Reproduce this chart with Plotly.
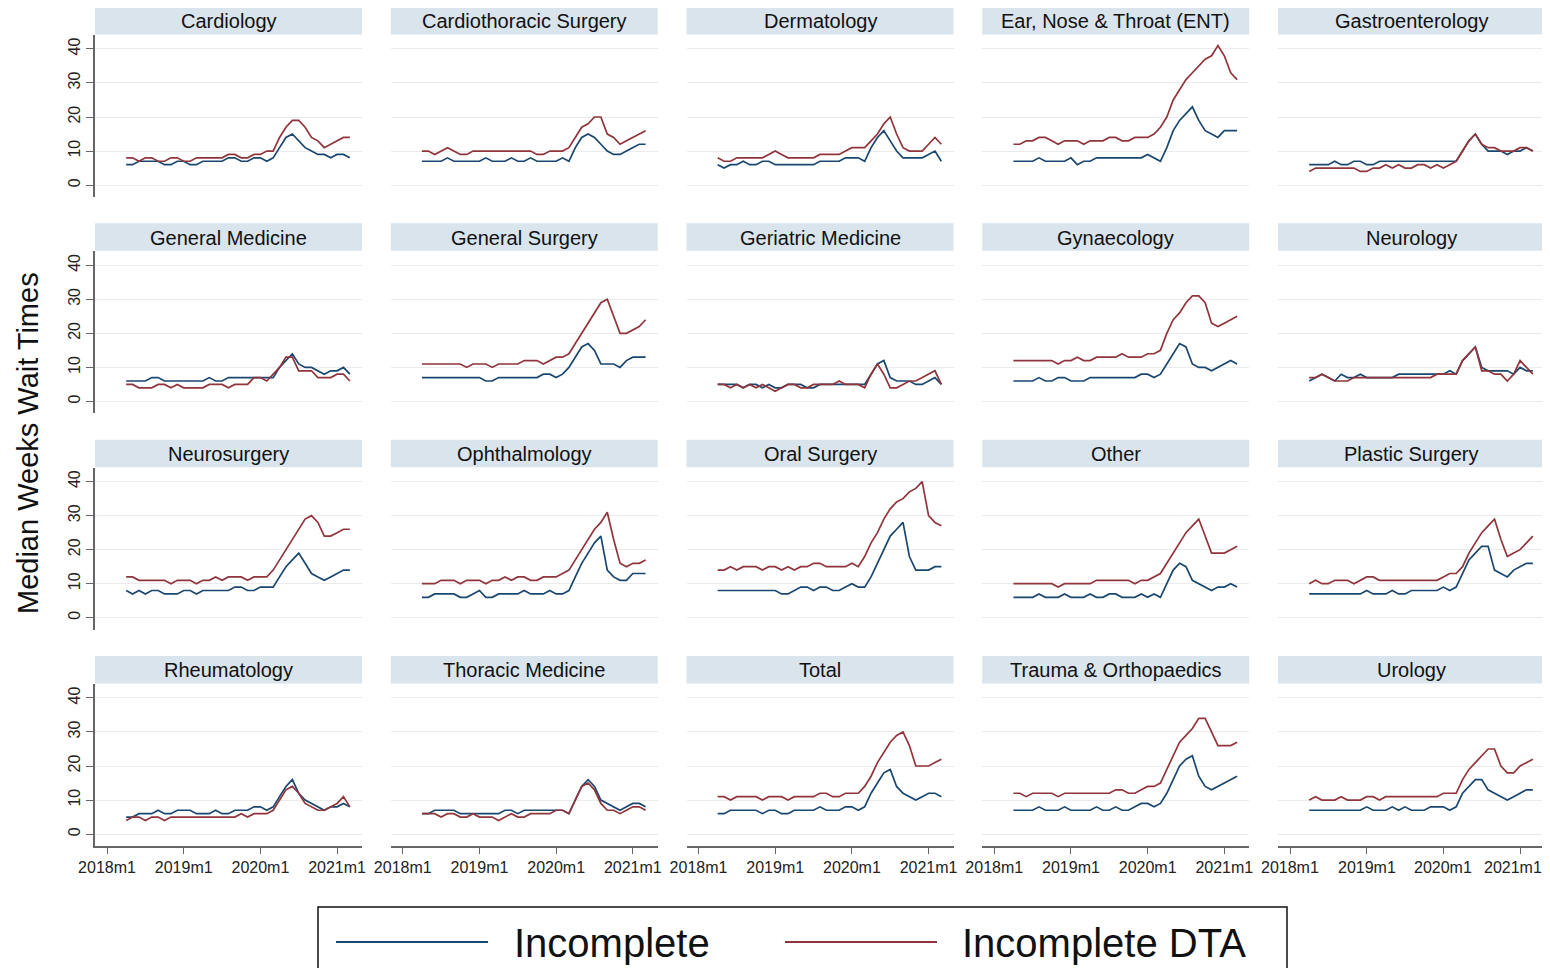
import pandas as pd
import plotly.graph_objects as go
from plotly.subplots import make_subplots

# monthly observations 2018m4 .. 2021m3
MONTHS = [f"{p.year}m{p.month}" for p in pd.period_range("2018-04", "2021-03", freq="M")]
TICK_LABELS = ["2018m1", "2019m1", "2020m1", "2021m1"]
Y_TICKS = [0, 10, 20, 30, 40]

cardiology_inc = [6, 6, 7, 7, 7, 7, 6, 6, 7, 7, 6, 6, 7, 7, 7, 7, 8, 8, 7, 7, 8, 8, 7, 8, 11, 14, 15, 13, 11, 10, 9, 9, 8, 9, 9, 8]
cardiology_dta = [8, 8, 7, 8, 8, 7, 7, 8, 8, 7, 7, 8, 8, 8, 8, 8, 9, 9, 8, 8, 9, 9, 10, 10, 14, 17, 19, 19, 17, 14, 13, 11, 12, 13, 14, 14]

cardiothoracic_inc = [7, 7, 7, 7, 8, 7, 7, 7, 7, 7, 8, 7, 7, 7, 8, 7, 7, 8, 7, 7, 7, 7, 8, 7, 11, 14, 15, 14, 12, 10, 9, 9, 10, 11, 12, 12]
cardiothoracic_dta = [10, 10, 9, 10, 11, 10, 9, 9, 10, 10, 10, 10, 10, 10, 10, 10, 10, 10, 9, 9, 10, 10, 10, 11, 14, 17, 18, 20, 20, 15, 14, 12, 13, 14, 15, 16]

dermatology_inc = [6, 5, 6, 6, 7, 6, 6, 7, 7, 6, 6, 6, 6, 6, 6, 6, 7, 7, 7, 7, 8, 8, 8, 7, 11, 14, 16, 13, 10, 8, 8, 8, 8, 9, 10, 7]
dermatology_dta = [8, 7, 7, 8, 8, 8, 8, 8, 9, 10, 9, 8, 8, 8, 8, 8, 9, 9, 9, 9, 10, 11, 11, 11, 13, 15, 18, 20, 15, 11, 10, 10, 10, 12, 14, 12]

ent_inc = [7, 7, 7, 7, 8, 7, 7, 7, 7, 8, 6, 7, 7, 8, 8, 8, 8, 8, 8, 8, 8, 9, 8, 7, 11, 16, 19, 21, 23, 19, 16, 15, 14, 16, 16, 16]
ent_dta = [12, 12, 13, 13, 14, 14, 13, 12, 13, 13, 13, 12, 13, 13, 13, 14, 14, 13, 13, 14, 14, 14, 15, 17, 20, 25, 28, 31, 33, 35, 37, 38, 41, 38, 33, 31]

gastro_inc = [6, 6, 6, 6, 7, 6, 6, 7, 7, 6, 6, 7, 7, 7, 7, 7, 7, 7, 7, 7, 7, 7, 7, 7, 10, 13, 15, 12, 10, 10, 10, 9, 10, 10, 11, 10]
gastro_dta = [4, 5, 5, 5, 5, 5, 5, 5, 4, 4, 5, 5, 6, 5, 6, 5, 5, 6, 6, 5, 6, 5, 6, 7, 10, 13, 15, 12, 11, 11, 10, 10, 10, 11, 11, 10]

gen_medicine_inc = [6, 6, 6, 6, 7, 7, 6, 6, 6, 6, 6, 6, 6, 7, 6, 6, 7, 7, 7, 7, 7, 7, 7, 7, 10, 12, 14, 11, 10, 10, 9, 8, 9, 9, 10, 8]
gen_medicine_dta = [5, 5, 4, 4, 4, 5, 5, 4, 5, 4, 4, 4, 4, 5, 5, 5, 4, 5, 5, 5, 7, 7, 6, 8, 10, 13, 13, 9, 9, 9, 7, 7, 7, 8, 8, 6]

gen_surgery_inc = [7, 7, 7, 7, 7, 7, 7, 7, 7, 7, 6, 6, 7, 7, 7, 7, 7, 7, 7, 8, 8, 7, 8, 10, 13, 16, 17, 15, 11, 11, 11, 10, 12, 13, 13, 13]
gen_surgery_dta = [11, 11, 11, 11, 11, 11, 11, 10, 11, 11, 11, 10, 11, 11, 11, 11, 12, 12, 12, 11, 12, 13, 13, 14, 17, 20, 23, 26, 29, 30, 25, 20, 20, 21, 22, 24]

geriatric_inc = [5, 5, 5, 5, 4, 5, 5, 4, 5, 4, 4, 5, 5, 5, 4, 4, 5, 5, 5, 5, 5, 5, 5, 5, 8, 11, 12, 7, 6, 6, 6, 5, 5, 6, 7, 5]
geriatric_dta = [5, 5, 4, 5, 4, 5, 4, 5, 4, 3, 4, 5, 5, 4, 4, 5, 5, 5, 5, 6, 5, 5, 5, 4, 8, 11, 8, 4, 4, 5, 6, 6, 7, 8, 9, 5]

gynaecology_inc = [6, 6, 6, 6, 7, 6, 6, 7, 7, 6, 6, 6, 7, 7, 7, 7, 7, 7, 7, 7, 8, 8, 7, 8, 11, 14, 17, 16, 11, 10, 10, 9, 10, 11, 12, 11]
gynaecology_dta = [12, 12, 12, 12, 12, 12, 12, 11, 12, 12, 13, 12, 12, 13, 13, 13, 13, 14, 13, 13, 13, 14, 14, 15, 20, 24, 26, 29, 31, 31, 29, 23, 22, 23, 24, 25]

neurology_inc = [6, 7, 8, 7, 6, 8, 7, 7, 8, 7, 7, 7, 7, 7, 8, 8, 8, 8, 8, 8, 8, 8, 9, 8, 12, 14, 16, 10, 9, 9, 9, 9, 8, 10, 9, 9]
neurology_dta = [7, 7, 8, 7, 6, 6, 6, 7, 7, 7, 7, 7, 7, 7, 7, 7, 7, 7, 7, 7, 8, 8, 8, 8, 12, 14, 16, 9, 9, 8, 8, 6, 8, 12, 10, 8]

neurosurgery_inc = [8, 7, 8, 7, 8, 8, 7, 7, 7, 8, 8, 7, 8, 8, 8, 8, 8, 9, 9, 8, 8, 9, 9, 9, 12, 15, 17, 19, 16, 13, 12, 11, 12, 13, 14, 14]
neurosurgery_dta = [12, 12, 11, 11, 11, 11, 11, 10, 11, 11, 11, 10, 11, 11, 12, 11, 12, 12, 12, 11, 12, 12, 12, 14, 17, 20, 23, 26, 29, 30, 28, 24, 24, 25, 26, 26]

ophthalmology_inc = [6, 6, 7, 7, 7, 7, 6, 6, 7, 8, 6, 6, 7, 7, 7, 7, 8, 7, 7, 7, 8, 7, 7, 8, 12, 16, 19, 22, 24, 14, 12, 11, 11, 13, 13, 13]
ophthalmology_dta = [10, 10, 10, 11, 11, 11, 10, 11, 11, 11, 10, 11, 11, 12, 11, 12, 12, 11, 11, 12, 12, 12, 13, 14, 17, 20, 23, 26, 28, 31, 23, 16, 15, 16, 16, 17]

oral_surgery_inc = [8, 8, 8, 8, 8, 8, 8, 8, 8, 8, 7, 7, 8, 9, 9, 8, 9, 9, 8, 8, 9, 10, 9, 9, 12, 16, 20, 24, 26, 28, 18, 14, 14, 14, 15, 15]
oral_surgery_dta = [14, 14, 15, 14, 15, 15, 15, 14, 15, 15, 14, 15, 14, 15, 15, 16, 16, 15, 15, 15, 15, 16, 15, 18, 22, 25, 29, 32, 34, 35, 37, 38, 40, 30, 28, 27]

other_inc = [6, 6, 6, 6, 7, 6, 6, 6, 7, 6, 6, 6, 7, 6, 6, 7, 7, 6, 6, 6, 7, 6, 7, 6, 10, 14, 16, 15, 11, 10, 9, 8, 9, 9, 10, 9]
other_dta = [10, 10, 10, 10, 10, 10, 10, 9, 10, 10, 10, 10, 10, 11, 11, 11, 11, 11, 11, 10, 11, 11, 12, 13, 16, 19, 22, 25, 27, 29, 24, 19, 19, 19, 20, 21]

plastic_inc = [7, 7, 7, 7, 7, 7, 7, 7, 7, 8, 7, 7, 7, 8, 7, 7, 8, 8, 8, 8, 8, 9, 8, 9, 13, 17, 19, 21, 21, 14, 13, 12, 14, 15, 16, 16]
plastic_dta = [10, 11, 10, 10, 11, 11, 11, 10, 11, 12, 12, 11, 11, 11, 11, 11, 11, 11, 11, 11, 11, 12, 13, 13, 15, 19, 22, 25, 27, 29, 23, 18, 19, 20, 22, 24]

rheumatology_inc = [5, 5, 6, 6, 6, 7, 6, 6, 7, 7, 7, 6, 6, 6, 7, 6, 6, 7, 7, 7, 8, 8, 7, 8, 11, 14, 16, 12, 10, 9, 8, 7, 8, 8, 9, 8]
rheumatology_dta = [4, 5, 5, 4, 5, 5, 4, 5, 5, 5, 5, 5, 5, 5, 5, 5, 5, 5, 6, 5, 6, 6, 6, 7, 10, 13, 14, 12, 9, 8, 7, 7, 8, 9, 11, 8]

thoracic_inc = [6, 6, 7, 7, 7, 7, 6, 6, 6, 6, 6, 6, 6, 7, 7, 6, 7, 7, 7, 7, 7, 7, 7, 6, 10, 14, 16, 14, 10, 9, 8, 7, 8, 9, 9, 8]
thoracic_dta = [6, 6, 6, 5, 6, 6, 5, 5, 6, 5, 5, 5, 4, 5, 6, 5, 5, 6, 6, 6, 6, 7, 7, 6, 10, 14, 15, 13, 9, 7, 7, 6, 7, 8, 8, 7]

total_inc = [6, 6, 7, 7, 7, 7, 7, 6, 7, 7, 6, 6, 7, 7, 7, 7, 8, 7, 7, 7, 8, 8, 7, 8, 12, 15, 18, 19, 14, 12, 11, 10, 11, 12, 12, 11]
total_dta = [11, 11, 10, 11, 11, 11, 11, 10, 11, 11, 11, 10, 11, 11, 11, 11, 12, 12, 11, 11, 12, 12, 12, 14, 17, 21, 24, 27, 29, 30, 26, 20, 20, 20, 21, 22]

trauma_inc = [7, 7, 7, 7, 8, 7, 7, 7, 8, 7, 7, 7, 7, 8, 7, 7, 8, 7, 7, 8, 9, 9, 8, 9, 12, 16, 20, 22, 23, 17, 14, 13, 14, 15, 16, 17]
trauma_dta = [12, 12, 11, 12, 12, 12, 12, 11, 12, 12, 12, 12, 12, 12, 12, 12, 13, 13, 12, 12, 13, 14, 14, 15, 19, 23, 27, 29, 31, 34, 34, 30, 26, 26, 26, 27]

urology_inc = [7, 7, 7, 7, 7, 7, 7, 7, 7, 8, 7, 7, 7, 8, 7, 8, 7, 7, 7, 8, 8, 8, 7, 8, 12, 14, 16, 16, 13, 12, 11, 10, 11, 12, 13, 13]
urology_dta = [10, 11, 10, 10, 10, 11, 10, 10, 10, 11, 11, 10, 11, 11, 11, 11, 11, 11, 11, 11, 11, 12, 12, 12, 16, 19, 21, 23, 25, 25, 20, 18, 18, 20, 21, 22]

PANELS = [
    ("Cardiology", cardiology_inc, cardiology_dta),
    ("Cardiothoracic Surgery", cardiothoracic_inc, cardiothoracic_dta),
    ("Dermatology", dermatology_inc, dermatology_dta),
    ("Ear, Nose & Throat (ENT)", ent_inc, ent_dta),
    ("Gastroenterology", gastro_inc, gastro_dta),
    ("General Medicine", gen_medicine_inc, gen_medicine_dta),
    ("General Surgery", gen_surgery_inc, gen_surgery_dta),
    ("Geriatric Medicine", geriatric_inc, geriatric_dta),
    ("Gynaecology", gynaecology_inc, gynaecology_dta),
    ("Neurology", neurology_inc, neurology_dta),
    ("Neurosurgery", neurosurgery_inc, neurosurgery_dta),
    ("Ophthalmology", ophthalmology_inc, ophthalmology_dta),
    ("Oral Surgery", oral_surgery_inc, oral_surgery_dta),
    ("Other", other_inc, other_dta),
    ("Plastic Surgery", plastic_inc, plastic_dta),
    ("Rheumatology", rheumatology_inc, rheumatology_dta),
    ("Thoracic Medicine", thoracic_inc, thoracic_dta),
    ("Total", total_inc, total_dta),
    ("Trauma & Orthopaedics", trauma_inc, trauma_dta),
    ("Urology", urology_inc, urology_dta),
]

BLUE = "#1a476f"
RED = "#90353b"
STRIP = "#d9e4ec"
FONT = "Liberation Sans, Arial, sans-serif"

# the page body adds an 8px margin, so every reference pixel position is
# shifted back by OFF; height is trimmed so the page does not scroll
OFF = 8
W, H = 1550 - OFF, 976 - 2 * OFF
NROWS, NCOLS = 4, 5


def px(v):
    return (v - OFF) / W


def py(v):
    return min(1.0, 1 - (v - OFF) / H)


def month_num(label):
    # months since 2018m1, used as the numeric x position
    y, m = label.split("m")
    return (int(y) - 2018) * 12 + int(m) - 1


x = [month_num(m) for m in MONTHS]
tickvals = [month_num(t) for t in TICK_LABELS]

fig = make_subplots(rows=NROWS, cols=NCOLS)

# pixel layout of the panels (Stata-like by() graph)
col_left = [95 + c * 295.75 for c in range(NCOLS)]
panel_w = 267
row_pitch = 216.33
shapes = []
annotations = []
tick_font = dict(family=FONT, size=16, color="#222")

for k, (name, inc, dta) in enumerate(PANELS):
    r, c = divmod(k, NCOLS)
    left = col_left[c]
    top = 35 + r * row_pitch
    bottom = 197 + r * row_pitch
    n = k + 1
    xa = "xaxis" if n == 1 else f"xaxis{n}"
    ya = "yaxis" if n == 1 else f"yaxis{n}"
    bottom_row = r == NROWS - 1
    last_col = c == NCOLS - 1

    fig.add_trace(go.Scatter(x=x, y=inc, mode="lines", name="Incomplete",
                             line=dict(color=BLUE, width=1.7), showlegend=False),
                  row=r + 1, col=c + 1)
    fig.add_trace(go.Scatter(x=x, y=dta, mode="lines", name="Incomplete DTA",
                             line=dict(color=RED, width=1.7), showlegend=False),
                  row=r + 1, col=c + 1)

    fig.layout[xa].update(
        domain=[px(left), px(left + panel_w)],
        range=[-1.88, 39.9], tickvals=tickvals, ticktext=TICK_LABELS,
        showgrid=False, zeroline=False, automargin=False,
        showline=bottom_row, linecolor="#666", linewidth=1.5,
        ticks="outside" if bottom_row else "", ticklen=6, tickcolor="#666",
        showticklabels=bottom_row and not last_col,
        tickfont=tick_font,
    )
    fig.layout[ya].update(
        domain=[py(bottom), py(top)],
        range=[-3.5, 44.1], tickvals=Y_TICKS,
        showgrid=True, gridcolor="#ebebeb", gridwidth=1, zeroline=False,
        automargin=False,
        showline=(c == 0), linecolor="#666", linewidth=1.5,
        ticks="outside" if c == 0 else "", ticklen=7, tickcolor="#666",
        showticklabels=(c == 0), tickangle=-90,
        tickfont=tick_font,
    )

    # bottom-right panel: labels as annotations so the last one stays on screen
    if bottom_row and last_col:
        xref = "x" if n == 1 else f"x{n}"
        for tv, tt in zip(tickvals, TICK_LABELS):
            annotations.append(dict(text=tt, xref=xref, yref="paper", x=tv,
                                    y=py(bottom + 11), xanchor="center", yanchor="top",
                                    xshift=-7 if tt == TICK_LABELS[-1] else 0,
                                    showarrow=False, font=tick_font))

    # panel header strip
    s_top = 7 + r * row_pitch
    s_bot = 34.5 + r * row_pitch
    shapes.append(dict(type="rect", xref="paper", yref="paper",
                       x0=px(left), x1=px(left + panel_w),
                       y0=py(s_bot), y1=py(s_top),
                       fillcolor=STRIP, line=dict(width=0), layer="below"))
    annotations.append(dict(text=name, xref="paper", yref="paper",
                            x=px(left + panel_w / 2), y=py((s_top + s_bot) / 2 + 0.5),
                            xanchor="center", yanchor="middle", showarrow=False,
                            font=dict(family=FONT, size=20, color="#111")))

# y axis title
annotations.append(dict(text="Median Weeks Wait Times", xref="paper", yref="paper",
                        x=px(28), y=py(443), textangle=-90, showarrow=False,
                        xanchor="center", yanchor="middle",
                        font=dict(family=FONT, size=29, color="#111")))

# legend box drawn by hand to match the wide Stata legend
shapes.append(dict(type="rect", xref="paper", yref="paper",
                   x0=px(318), x1=px(1287), y0=py(975), y1=py(907),
                   line=dict(color="#111", width=1.5), fillcolor="rgba(0,0,0,0)"))
for x0, x1, col, label, tx in [(336, 488, BLUE, "Incomplete", 512),
                               (785, 937, RED, "Incomplete DTA", 960)]:
    shapes.append(dict(type="line", xref="paper", yref="paper",
                       x0=px(x0), x1=px(x1), y0=py(942), y1=py(942),
                       line=dict(color=col, width=2.2)))
    annotations.append(dict(text=label, xref="paper", yref="paper",
                            x=px(tx), y=py(943), xanchor="left", yanchor="middle",
                            showarrow=False,
                            font=dict(family=FONT, size=40, color="#111")))

fig.update_layout(
    width=W, height=H,
    margin=dict(l=0, r=0, t=0, b=0, autoexpand=False),
    paper_bgcolor="white", plot_bgcolor="white",
    showlegend=False,
    shapes=shapes, annotations=annotations,
)

fig.write_html("out.html")
